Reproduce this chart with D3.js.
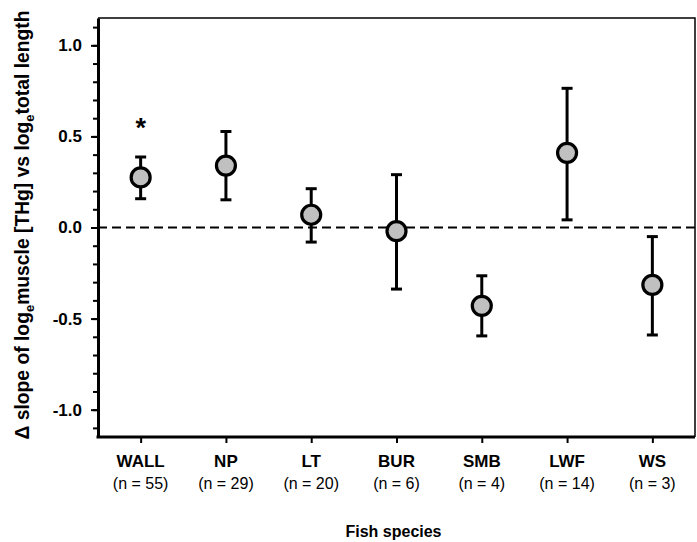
<!DOCTYPE html>
<html><head><meta charset="utf-8">
<script src="https://cdn.jsdelivr.net/npm/d3@7"></script>
<style>body{margin:0;background:#fff}svg{display:block}text{font-family:"Liberation Sans",Arial,sans-serif}</style>
</head><body>
<script>
const species = ["WALL","NP","LT","BUR","SMB","LWF","WS"];
const sampleSizes = ["(n = 55)","(n = 29)","(n = 20)","(n = 6)","(n = 4)","(n = 14)","(n = 3)"];
const slopeDelta = [0.275, 0.34, 0.07, -0.02, -0.43, 0.41, -0.315];
const upperCI = [0.387, 0.527, 0.213, 0.29, -0.265, 0.764, -0.05];
const lowerCI = [0.158, 0.152, -0.08, -0.338, -0.595, 0.042, -0.59];
const significant = ["WALL"];
const yTicks = [-1.0, -0.5, 0.0, 0.5, 1.0];
const yMinorTicks = d3.range(-11, 12).map(i => i / 10);

const W = 697, H = 542;
const m = {left: 98, right: 2, top: 18, bottom: 105};
const svg = d3.select("body").append("svg").attr("width", W).attr("height", H);

const x = d3.scalePoint().domain(species).range([m.left, W - m.right]).padding(0.5);
const y = d3.scaleLinear().domain([-1.15, 1.15]).range([H - m.bottom, m.top]);

// frame (top/right)
svg.append("path")
  .attr("d", `M${m.left},${m.top}H${W - m.right}V${H - m.bottom}`)
  .attr("fill", "none").attr("stroke", "#000").attr("stroke-width", 1.5);

// dashed zero line
svg.append("line")
  .attr("x1", m.left).attr("x2", W - m.right)
  .attr("y1", y(0)).attr("y2", y(0))
  .attr("stroke", "#000").attr("stroke-width", 2).attr("stroke-dasharray", "9,5");

// y axis
const yMinor = svg.append("g").attr("transform", `translate(${m.left},0)`)
  .call(d3.axisLeft(y).tickValues(yMinorTicks).tickSize(5).tickFormat(""));
yMinor.select(".domain").remove();
yMinor.selectAll("line").attr("stroke-width", 2);
const yAx = svg.append("g").attr("transform", `translate(${m.left},0)`)
  .call(d3.axisLeft(y).tickValues(yTicks).tickSize(7).tickSizeOuter(0).tickPadding(9).tickFormat(d3.format(".1f")));
yAx.select(".domain").attr("stroke-width", 3);
yAx.selectAll("line").attr("stroke-width", 2);
yAx.selectAll("text").attr("font-size", 17).attr("font-weight", "bold").attr("fill", "#000")
  .text(d => d3.format(".1f")(d).replace("−", "-"));

// x axis
const xAx = svg.append("g").attr("transform", `translate(0,${H - m.bottom})`)
  .call(d3.axisBottom(x).tickSize(6).tickSizeOuter(0).tickFormat(""));
xAx.select(".domain").attr("stroke-width", 3)
  .attr("d", `M${m.left - 1.5},0H${W - m.right}`);
xAx.selectAll("line").attr("stroke-width", 2);

// category labels
svg.append("g").selectAll("text").data(species).join("text")
  .attr("x", d => x(d)).attr("y", 467).attr("text-anchor", "middle")
  .attr("font-size", 17).attr("font-weight", "bold").text(d => d);
svg.append("g").selectAll("text").data(species).join("text")
  .attr("x", d => x(d)).attr("y", 489).attr("text-anchor", "middle")
  .attr("font-size", 16).text((d, i) => sampleSizes[i]);

// error bars
const g = svg.append("g");
species.forEach((s, i) => {
  const cx = x(s);
  g.append("line").attr("x1", cx).attr("x2", cx).attr("y1", y(upperCI[i])).attr("y2", y(lowerCI[i]))
    .attr("stroke", "#000").attr("stroke-width", 3);
  [upperCI[i], lowerCI[i]].forEach(v => {
    g.append("line").attr("x1", cx - 5.5).attr("x2", cx + 5.5).attr("y1", y(v)).attr("y2", y(v))
      .attr("stroke", "#000").attr("stroke-width", 3);
  });
});
g.selectAll("circle").data(species).join("circle")
  .attr("cx", d => x(d)).attr("cy", (d, i) => y(slopeDelta[i])).attr("r", 9.5)
  .attr("fill", "#c0c0c0").attr("stroke", "#000").attr("stroke-width", 3.2);

// significance star
svg.append("g").selectAll("text").data(significant).join("text")
  .attr("x", d => x(d)).attr("y", d => y(upperCI[species.indexOf(d)]) - 20)
  .attr("text-anchor", "middle").attr("font-size", 27).attr("font-weight", "bold").text("*");

// axis titles
svg.append("text").attr("x", (m.left + W - m.right) / 2 - 3).attr("y", 537)
  .attr("text-anchor", "middle").attr("font-size", 16).attr("font-weight", "bold").text("Fish species");

const yt = svg.append("text").attr("transform", `translate(29,225) rotate(-90)`)
  .attr("text-anchor", "middle").attr("font-size", 19.3).attr("font-weight", "bold");
yt.append("tspan").text("Δ slope of log");
yt.append("tspan").attr("font-size", 13).attr("dy", 5).text("e");
yt.append("tspan").attr("dy", -5).text("muscle [THg] vs log");
yt.append("tspan").attr("font-size", 13).attr("dy", 5).text("e");
yt.append("tspan").attr("dy", -5).text("total length");
</script>
</body></html>
